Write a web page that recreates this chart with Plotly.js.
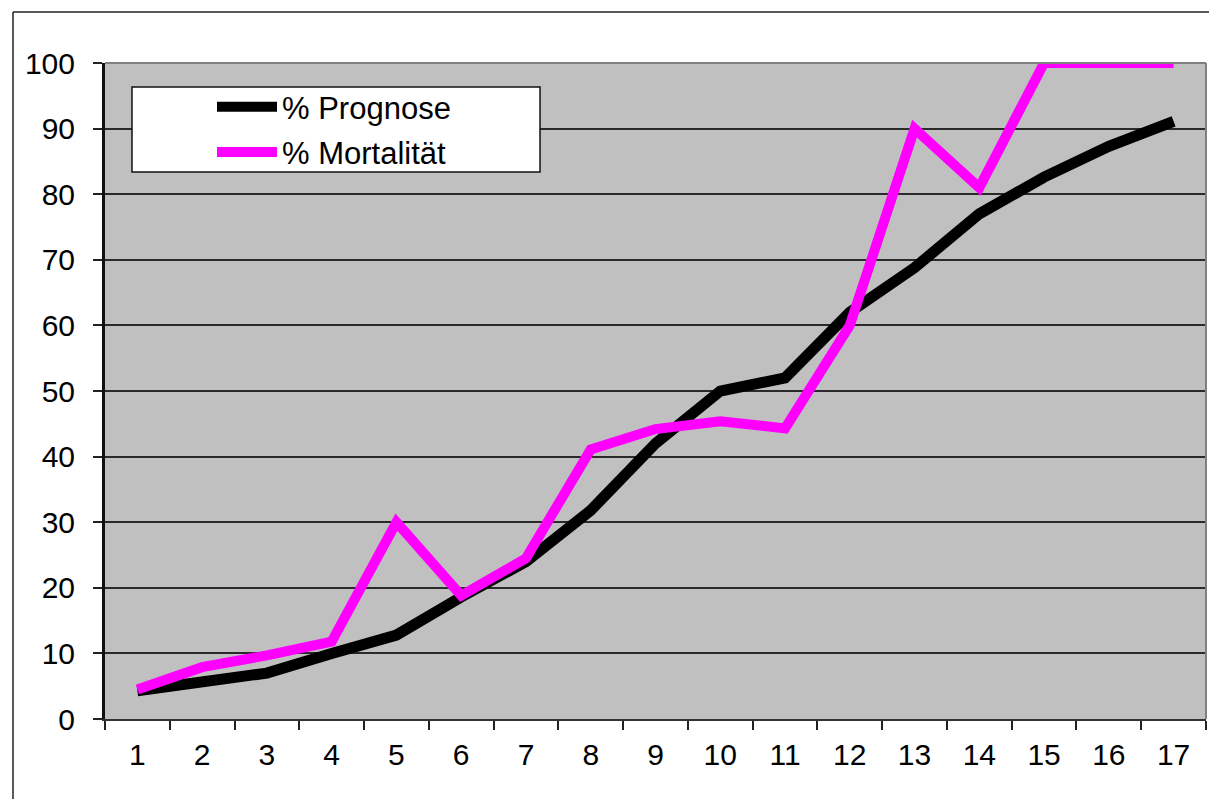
<!DOCTYPE html>
<html>
<head>
<meta charset="utf-8">
<script src="https://cdn.plot.ly/plotly-3.0.1.min.js"></script>
<style>
html,body{margin:0;padding:0;background:#fff;}
#chart{width:1209px;height:799px;}
</style>
</head>
<body>
<div id="chart"></div>
<script>
var categories = ['1','2','3','4','5','6','7','8','9','10','11','12','13','14','15','16','17'];
var prognose = [4.3, 5.8, 7.0, 10.0, 12.8, 18.6, 24.0, 31.8, 42.0, 50.0, 52.0, 62.0, 68.8, 77.0, 82.6, 87.3, 91.1];
var mortalitaet = [4.5, 7.9, 9.7, 11.8, 30.0, 18.8, 24.5, 41.1, 44.2, 45.4, 44.3, 60.0, 90.0, 81.0, 100, 100, 100];
var seriesNames = ['% Prognose', '% Mortalität'];
var yTicks = [0,10,20,30,40,50,60,70,80,90,100];

var W = 1209, H = 799;
var L = 105, R = 3, T = 63, B = 80;
var pw = W - L - R, ph = H - T - B;
function px(x){ return (x - L) / pw; }
function py(y){ return (H - B - y) / ph; }

var fontFam = '"Liberation Sans", Arial, sans-serif';

var traces = [
  {x: categories, y: prognose, name: seriesNames[0], type: 'scatter', mode: 'lines',
   line: {color: '#000000', width: 11}, legendgroup: 'a'},
  {x: categories, y: mortalitaet, name: seriesNames[1], type: 'scatter', mode: 'lines',
   line: {color: '#FF00FF', width: 10}, legendgroup: 'b'}
];

var layout = {
  width: W, height: H,
  margin: {l: L, r: R, t: T, b: B, pad: 0},
  paper_bgcolor: '#ffffff',
  plot_bgcolor: '#C0C0C0',
  font: {family: fontFam, size: 30, color: '#000'},
  showlegend: true,
  legend: {
    x: px(212), y: py(80), xanchor: 'left', yanchor: 'top',
    bgcolor: 'rgba(0,0,0,0)', borderwidth: 0,
    font: {family: fontFam, size: 31, color: '#000'},
    traceorder: 'grouped', tracegroupgap: 2, itemwidth: 60
  },
  xaxis: {
    type: 'category', range: [-0.5, 16.5], fixedrange: true,
    tickson: 'boundaries', ticks: 'outside', ticklen: 9, tickwidth: 2, tickcolor: '#222',
    showgrid: false, showline: true, linecolor: '#333', linewidth: 2,
    tickfont: {family: fontFam, size: 30, color: '#000'},
    ticklabelstandoff: 8, zeroline: false
  },
  yaxis: {
    range: [0, 100], tickvals: yTicks, ticktext: yTicks.map(String), fixedrange: true,
    ticks: 'outside', ticklen: 9, tickwidth: 2, tickcolor: '#222',
    showgrid: true, gridcolor: '#2a2a2a', gridwidth: 2,
    showline: true, linecolor: '#111', linewidth: 3,
    tickfont: {family: fontFam, size: 30, color: '#000'},
    ticklabelstandoff: 12, zeroline: false
  },
  shapes: [
    {type: 'line', xref: 'paper', yref: 'paper', x0: 0, x1: 1, y0: 1, y1: 1,
     line: {color: '#808080', width: 2}, layer: 'above'},
    {type: 'line', xref: 'paper', yref: 'paper', x0: 1, x1: 1, y0: 0, y1: 1,
     line: {color: '#808080', width: 2}, layer: 'above'},
    {type: 'rect', xref: 'paper', yref: 'paper', x0: px(132), x1: px(540), y0: py(172), y1: py(87),
     fillcolor: '#ffffff', line: {color: '#111', width: 1.5}, layer: 'above'},
    {type: 'line', xref: 'paper', yref: 'paper', x0: px(13), x1: px(13), y0: py(H + 5), y1: py(12),
     line: {color: '#222', width: 1.5}},
    {type: 'line', xref: 'paper', yref: 'paper', x0: px(13), x1: px(W + 5), y0: py(12), y1: py(12),
     line: {color: '#222', width: 1.5}}
  ]
};

Plotly.newPlot('chart', traces, layout, {displayModeBar: false, staticPlot: true});
</script>
</body>
</html>
